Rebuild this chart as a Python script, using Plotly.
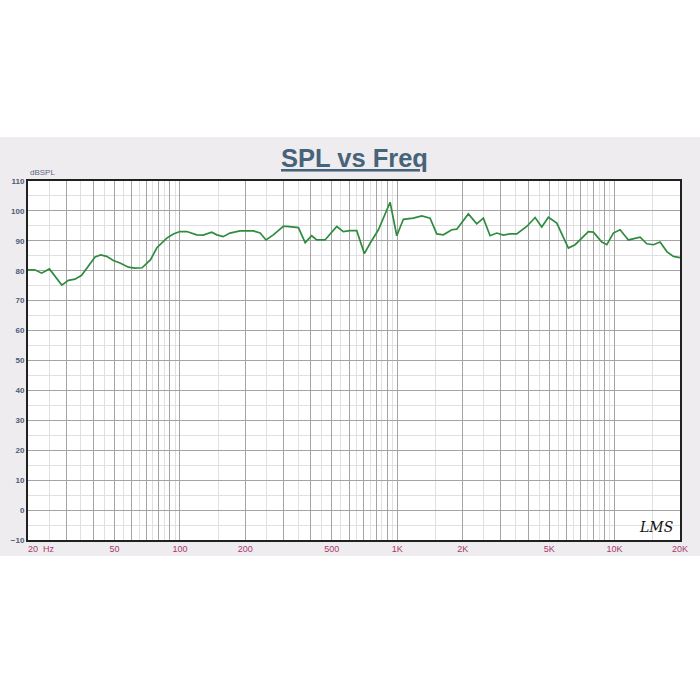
import math
import plotly.graph_objects as go

# ---- data ----
freq_hz = [20, 21.5, 23.1, 25.1, 28.6, 30.7, 32.9, 35.3, 40.7, 43.2, 46, 49.4, 53, 58, 62, 67,
           73.3, 78.2, 87, 93.3, 100, 107.5, 119.5, 128, 140, 148, 158, 170, 189, 218, 234, 249,
           269, 299, 310, 351, 377, 404, 426, 465, 527, 565, 607, 651, 706, 750, 819, 927, 995,
           1067, 1186, 1297, 1416, 1520, 1630, 1782, 1879, 2124, 2322, 2490, 2674, 2870, 3078,
           3304, 3548, 3944, 4308, 4624, 4960, 5420, 6130, 6582, 7576, 7988, 8734, 9210, 9874,
           10602, 11576, 13106, 14072, 15092, 16198, 17392, 18648, 20000]
spl_db = [80.3, 80.3, 79.2, 80.6, 75.2, 76.8, 77.2, 78.5, 84.6, 85.3, 84.8, 83.4, 82.6, 81.2, 80.9, 81.0,
          83.7, 87.6, 90.9, 92.3, 93.1, 93.1, 92.0, 91.9, 92.9, 92.0, 91.4, 92.6, 93.3, 93.3, 92.6, 90.3,
          92.0, 94.8, 94.8, 94.4, 89.4, 91.7, 90.3, 90.3, 94.8, 93.1, 93.4, 93.4, 85.7, 89.2, 93.7, 102.9, 91.7,
          97.2, 97.6, 98.3, 97.6, 92.3, 92.0, 93.7, 93.9, 99.0, 95.7, 97.6, 91.7, 92.6, 91.9,
          92.3, 92.3, 94.8, 97.8, 94.6, 97.9, 95.9, 87.6, 88.7, 93.1, 92.9, 89.6, 88.7, 92.6,
          93.7, 90.3, 91.2, 89.0, 88.7, 89.6, 86.4, 84.8, 84.4]

# grid positions (dark = whole multiples, light = half multiples)
major_grid_hz = [20, 30, 40, 50, 60, 70, 80, 90, 100, 200, 300, 400, 500, 600, 700, 800, 900, 1000,
                 2000, 3000, 4000, 5000, 6000, 7000, 8000, 9000, 10000, 20000]
major_labels = ["", "", "", "50", "", "", "", "", "100", "200", "", "", "500", "", "", "", "", "1K",
                "2K", "", "", "5K", "", "", "", "", "10K", "20K"]
minor_grid_hz = [25, 35, 45, 55, 65, 75, 85, 95, 150, 250, 350, 450, 550, 650, 750, 850, 950,
                 1500, 2500, 3500, 4500, 5500, 6500, 7500, 8500, 9500, 15000]
first_label = "20\u00a0\u00a0Hz"
y_label = "dBSPL"
title_text = "SPL vs Freq"

# ---- layout geometry ----
W, H = 700, 700
L, R, T, B = 28, 20, 181, 160
plot_h = H - T - B


def py(pix):
    return (H - B - pix) / plot_h


fig = go.Figure()
fig.add_trace(go.Scatter(x=freq_hz, y=spl_db, mode="lines",
                         line=dict(color="#2f8b3e", width=1.7), hoverinfo="x+y"))

dark = "#a4a4a4"
light = "#e0e0e0"
xfont = dict(family="Liberation Sans, Arial", size=9, color="#a8386c")

fig.update_layout(
    width=W, height=H,
    margin=dict(l=L, r=R, t=T, b=B, pad=0),
    paper_bgcolor="white", plot_bgcolor="white",
    showlegend=False,
    xaxis=dict(type="log", range=[math.log10(20), math.log10(20000)],
               tickmode="array", tickvals=major_grid_hz, ticktext=major_labels,
               showgrid=True, gridcolor=dark, gridwidth=1,
               minor=dict(tickmode="array", tickvals=minor_grid_hz, showgrid=True,
                          gridcolor=light, gridwidth=1, ticks=""),
               ticks="", tickfont=xfont, ticklabelstandoff=-1, automargin=False,
               showline=True, linecolor="#202020", linewidth=2, mirror=True,
               zeroline=False, fixedrange=True),
    yaxis=dict(range=[-10, 110], tickmode="linear", tick0=-10, dtick=10,
               showgrid=True, gridcolor=dark, gridwidth=1,
               minor=dict(dtick=5, showgrid=True, gridcolor=light, gridwidth=1, ticks=""),
               ticks="", ticklabelstandoff=0, automargin=False,
               tickfont=dict(family="Liberation Sans, Arial", size=8, color="#4d5c74", weight="bold"),
               showline=True, linecolor="#202020", linewidth=2, mirror=True,
               zeroline=False, fixedrange=True),
    shapes=[
        dict(type="rect", xref="paper", yref="paper", x0=-0.1, x1=1.1,
             y0=py(556), y1=py(137), fillcolor="#eeecef", line=dict(width=0), layer="below"),
        dict(type="rect", xref="paper", yref="paper", x0=0, x1=1, y0=0, y1=1,
             fillcolor="white", line=dict(width=0), layer="below"),
    ],
    annotations=[
        dict(text="<b><u>" + title_text + "</u></b>", xref="paper", yref="paper",
             x=0.5, y=py(158), xanchor="center", yanchor="middle", showarrow=False,
             font=dict(family="Liberation Sans, Arial", size=25.5, color="#466379")),
        dict(text=y_label, xref="paper", yref="paper", x=0, y=py(173),
             xanchor="left", yanchor="middle", showarrow=False, xshift=0,
             font=dict(family="Liberation Sans, Arial", size=8, color="#5a6a82")),
        dict(text=first_label, xref="paper", yref="paper", x=0, y=py(549),
             xanchor="left", yanchor="middle", showarrow=False, xshift=-2,
             font=xfont),
        dict(text="<i>LMS</i>", xref="paper", yref="paper", x=(656 - L) / (W - L - R), y=py(527),
             xanchor="center", yanchor="middle", showarrow=False,
             font=dict(family="DejaVu Serif", size=14, color="#111111")),
    ],
)

fig.write_html("out.html", config={"displayModeBar": False},
               post_script="document.body.style.margin='0';document.body.style.overflow='hidden';")
